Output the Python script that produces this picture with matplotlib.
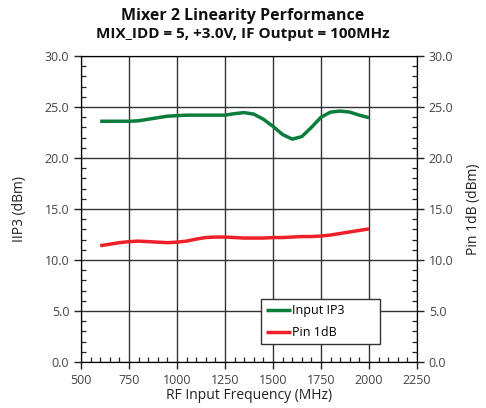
import numpy as np
import matplotlib.pyplot as plt
from matplotlib.ticker import MultipleLocator

# RF input frequency (MHz)
freq = [600, 650, 700, 750, 800, 850, 900, 950, 1000, 1050, 1100, 1150, 1200, 1250,
        1300, 1350, 1400, 1450, 1500, 1550, 1600, 1650, 1700, 1750, 1800, 1850,
        1900, 1950, 2000]
# Input IP3 (dBm)
iip3 = [23.6, 23.6, 23.6, 23.6, 23.65, 23.8, 23.95, 24.1, 24.15, 24.2, 24.2, 24.2,
        24.2, 24.2, 24.35, 24.45, 24.3, 23.8, 23.1, 22.3, 21.85, 22.1, 23.0, 24.0,
        24.5, 24.6, 24.5, 24.2, 23.95]
# Pin 1dB (dBm)
p1db = [11.4, 11.55, 11.7, 11.8, 11.85, 11.8, 11.75, 11.7, 11.75, 11.85, 12.05, 12.2,
        12.25, 12.25, 12.2, 12.15, 12.15, 12.15, 12.2, 12.2, 12.25, 12.3, 12.3, 12.35,
        12.45, 12.6, 12.75, 12.9, 13.05]

plt.rcParams['font.family'] = ['Open Sans', 'DejaVu Sans']

fig = plt.figure(figsize=(4.86, 4.08), dpi=100)
ax = fig.add_axes([81 / 486, 1 - 362 / 408, 336 / 486, 306 / 408])

ax.plot(freq, iip3, color='#0a7d3c', lw=2.5, label='Input IP3', solid_capstyle='butt')
ax.plot(freq, p1db, color='#f0202a', lw=2.5, label='Pin 1dB', solid_capstyle='butt')

ax.set_xlim(500, 2250)
ax.set_ylim(0, 30)
ax.xaxis.set_major_locator(MultipleLocator(250))
ax.xaxis.set_minor_locator(MultipleLocator(50))
ax.yaxis.set_major_locator(MultipleLocator(5))
ax.yaxis.set_minor_locator(MultipleLocator(1))
ax.yaxis.set_major_formatter(lambda v, p: f'{v:.1f}')
ax.grid(True, which='major', color='#333333', lw=1.0)


def style_ticks(a):
    a.tick_params(which='major', direction='out', length=5, width=1.0,
                  color='#222222', labelcolor='#444444', labelsize=9)
    a.tick_params(which='minor', direction='in', length=3.5, width=0.9,
                  color='#222222')


style_ticks(ax)
for s in ax.spines.values():
    s.set_color('#222222')

ax2 = ax.twinx()
ax2.set_ylim(0, 30)
ax2.yaxis.set_major_locator(MultipleLocator(5))
ax2.yaxis.set_minor_locator(MultipleLocator(1))
ax2.yaxis.set_major_formatter(lambda v, p: f'{v:.1f}')
style_ticks(ax2)

ax.set_xlabel('RF Input Frequency (MHz)', fontsize=10, labelpad=1, color='#222222')
ax.set_ylabel('IIP3 (dBm)', fontsize=10, labelpad=13, color='#222222')
ax2.set_ylabel('Pin 1dB (dBm)', fontsize=10, labelpad=9, color='#222222')

leg = ax.legend(loc='lower left', bbox_to_anchor=(0.536, 0.059, 0.354, 0.141),
                mode='expand', fontsize=9, frameon=True, fancybox=False,
                edgecolor='#333333', framealpha=1, handlelength=2.0,
                handletextpad=0.1, borderaxespad=0, labelspacing=0.7)
leg.get_frame().set_linewidth(1.0)

fig.text(0.5, 1 - 16 / 408, 'Mixer 2 Linearity Performance', ha='center', va='center',
         fontsize=11.5, fontweight='bold', color='#111111')
fig.text(0.5, 1 - 34 / 408, 'MIX_IDD = 5, +3.0V, IF Output = 100MHz', ha='center',
         va='center', fontsize=11, fontweight='bold', color='#111111')

fig.savefig('out.png', dpi=100)
